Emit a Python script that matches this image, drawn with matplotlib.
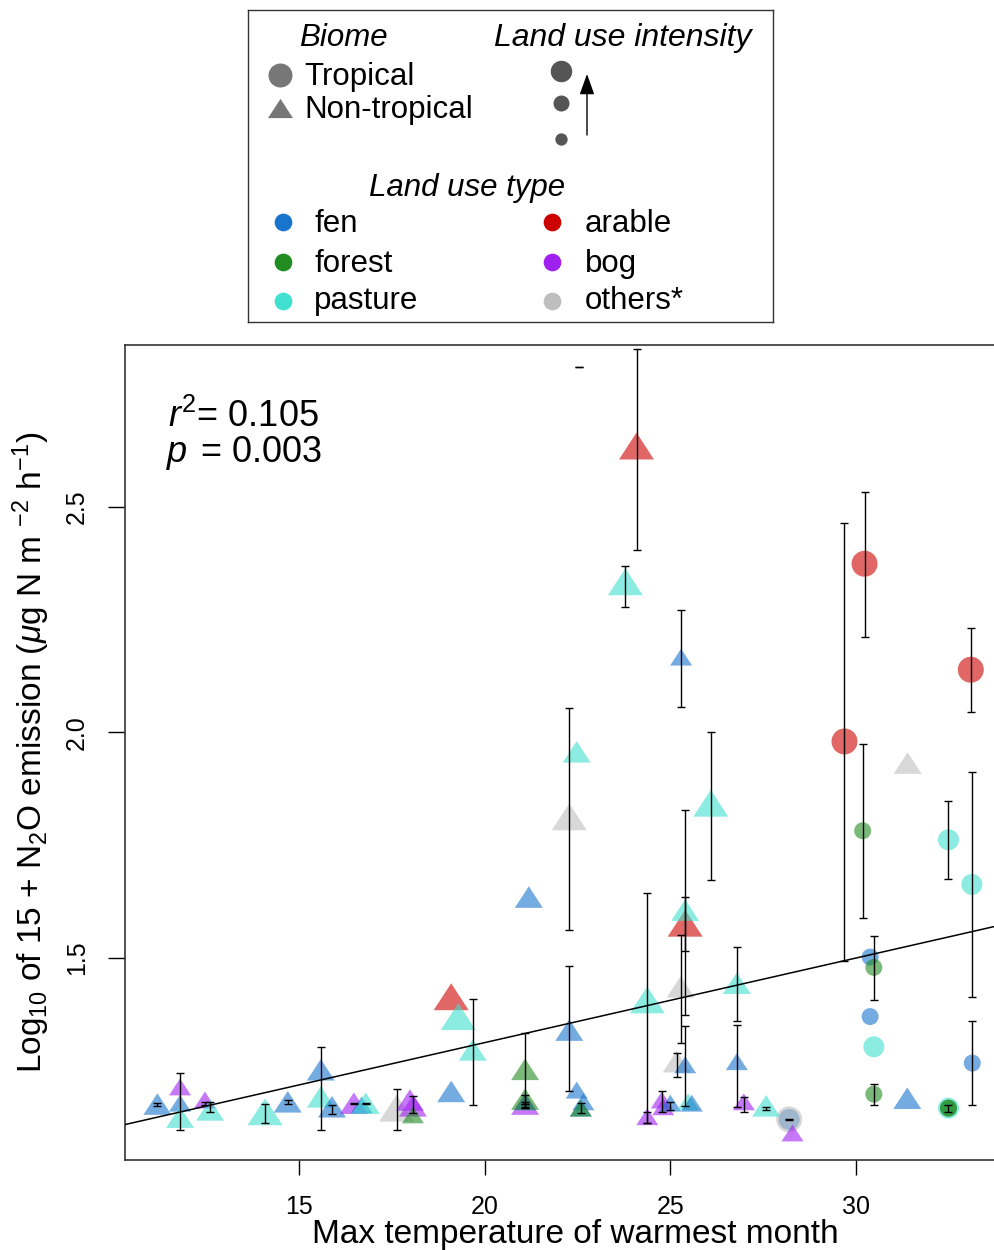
import numpy as np
import matplotlib
matplotlib.use('Agg')
import matplotlib.pyplot as plt
from matplotlib.path import Path

plt.rcParams['font.family'] = ['Liberation Sans', 'DejaVu Sans']
plt.rcParams['mathtext.fontset'] = 'custom'
plt.rcParams['mathtext.rm'] = 'Liberation Sans'
plt.rcParams['mathtext.it'] = 'Liberation Sans:italic'

nan = np.nan

# land use types (legend order: left column then right column)
types = ['fen', 'forest', 'pasture', 'arable', 'bog', 'others']
type_labels = ['fen', 'forest', 'pasture', 'arable', 'bog', 'others*']
type_colors = ['#1874CD', '#228B22', '#40E0D0', '#CD0000', '#A020F0', '#BEBEBE']
intensity_levels = [1, 2, 3]

# non-tropical sites (triangles)
nt_temp = [11.19, 11.80, 11.80, 11.80, 12.47, 12.61, 14.09, 14.70, 15.59, 15.59,
           15.89, 16.48, 16.69, 16.80, 17.63, 17.99, 18.07, 18.07, 19.10, 19.10,
           19.29, 19.68, 21.09, 21.09, 21.09, 21.09, 21.19, 22.28, 22.28, 22.48,
           22.48, 22.66, 22.59, 22.59, 23.79, 24.09, 24.38, 24.38, 24.77, 24.81,
           25.00, 25.17, 25.28, 25.29, 25.40, 25.40, 25.40, 25.48, 25.58, 26.09,
           26.79, 26.79, 26.98, 27.58, 28.29, 31.38, 31.39]
nt_emis = [1.176, 1.214, 1.178, 1.147, 1.185, 1.163, 1.159, 1.181, 1.252, 1.192,
           1.170, 1.178, 1.174, 1.178, 1.167, 1.185, 1.172, 1.152, 1.204, 1.414,
           1.370, 1.296, 1.253, 1.176, 1.181, 1.187, 1.635, 1.340, 1.813, 1.957,
           1.207, 1.181, 1.167, 1.167, 2.334, 2.635, 1.407, 1.148, 1.185, 1.170,
           1.178, 1.270, 1.436, 2.167, 1.263, 1.577, 1.606, 1.181, 1.178, 1.843,
           1.444, 1.270, 1.181, 1.172, 1.112, 1.189, 1.932]
nt_type = ['fen', 'bog', 'fen', 'pasture', 'bog', 'pasture', 'pasture', 'fen', 'fen', 'pasture',
           'fen', 'bog', 'fen', 'pasture', 'others', 'bog', 'bog', 'forest', 'fen', 'arable',
           'pasture', 'pasture', 'forest', 'bog', 'fen', 'forest', 'fen', 'fen', 'others', 'pasture',
           'fen', 'fen', 'fen', 'forest', 'pasture', 'arable', 'pasture', 'bog', 'bog', 'bog',
           'fen', 'others', 'others', 'fen', 'fen', 'arable', 'pasture', 'pasture', 'fen', 'pasture',
           'pasture', 'fen', 'bog', 'pasture', 'bog', 'fen', 'others']
nt_int = [2, 1, 1, 2, 1, 2, 3, 2, 2, 2,
          2, 2, 1, 2, 3, 2, 2, 1, 2, 3,
          3, 2, 2, 2, 1, 2, 2, 2, 3, 2,
          1, 1, 1, 1, 3, 3, 3, 1, 1, 1,
          1, 2, 2, 1, 1, 3, 2, 1, 1, 3,
          2, 1, 1, 2, 1, 2, 2]
nt_lo = [1.172, nan, nan, 1.119, 1.174, 1.159, 1.134, 1.176, 1.119, nan,
         1.154, 1.177, nan, 1.177, 1.119, nan, 1.156, nan, nan, nan,
         nan, 1.174, 1.167, 1.167, 1.170, 1.176, nan, 1.206, 1.561, nan,
         nan, nan, nan, 1.156, 2.279, 2.405, 1.133, 1.133, 1.159, nan,
         1.163, 1.237, 1.312, 2.057, 1.172, 1.516, 1.374, nan, nan, 1.673,
         1.360, 1.170, 1.159, 1.163, nan, nan, nan]
nt_hi = [1.178, nan, nan, 1.245, 1.181, 1.181, 1.176, 1.185, 1.303, nan,
         1.174, 1.179, nan, 1.179, 1.210, nan, 1.194, nan, nan, nan,
         nan, 1.409, 1.334, 1.176, 1.181, 1.196, nan, 1.482, 2.054, nan,
         nan, nan, nan, 1.178, 2.369, 2.850, 1.643, 1.159, 1.205, nan,
         1.180, 1.290, 1.551, 2.272, 1.348, 1.636, 1.828, nan, nan, 2.000,
         1.524, 1.351, 1.192, 1.170, nan, nan, nan]

# tropical sites (circles)
tr_temp = [28.20, 28.20, 29.69, 30.18, 30.23, 30.38, 30.48, 30.38, 30.48, 30.48,
           32.49, 32.49, 32.49, 32.49, 33.09, 33.12, 33.13]
tr_emis = [1.142, 1.142, 1.980, 1.782, 2.374, 1.502, 1.479, 1.370, 1.303, 1.198,
           1.762, 1.167, 1.167, 1.167, 2.139, 1.663, 1.267]
tr_type = ['fen', 'others', 'arable', 'forest', 'arable', 'fen', 'forest', 'fen', 'pasture', 'forest',
           'pasture', 'pasture', 'forest', 'forest', 'arable', 'pasture', 'fen']
tr_int = [2, 3, 3, 1, 3, 1, 1, 1, 2, 1,
          2, 2, 1, 1, 3, 2, 1]
tr_lo = [nan, 1.141, 1.494, 1.589, 2.212, nan, 1.407, nan, nan, 1.174,
         1.675, nan, 1.159, nan, 2.046, 1.414, 1.174]
tr_hi = [nan, 1.143, 2.465, 1.974, 2.534, nan, 1.549, nan, nan, 1.221,
         1.847, nan, 1.174, nan, 2.232, 1.913, 1.360]

# error bar with no point shown
lone_temp = [22.53]
lone_emis = [2.811]

# regression fit
fit_a = 0.937
fit_b = 0.01876
r2_text = '0.105'
p_text = '0.003'

W, H = 995, 1250
fig = plt.figure(figsize=(W / 100, H / 100), dpi=100)


def fxy(x, y):
    return x / W, 1 - y / H


color_of = dict(zip(types, type_colors))
tri_w = {1: 22, 2: 28, 3: 35}     # triangle width in px
circ_d = {1: 17, 2: 21, 3: 26}    # circle diameter in px
PT = 72 / 100
tri = Path([(-0.65, -0.5), (0.65, -0.5), (0, 0.5), (-0.65, -0.5)],
           [Path.MOVETO, Path.LINETO, Path.LINETO, Path.CLOSEPOLY])

ax = fig.add_axes([125 / W, 1 - 1160 / H, 872 / W, 815 / H])
ax.set_xlim(10.318, 33.796)
ax.set_ylim(1.052, 2.859)

ax.scatter(tr_temp, tr_emis, marker='o', c=[color_of[t] for t in tr_type],
           s=[(circ_d[i] * PT) ** 2 for i in tr_int], alpha=0.6, linewidths=0, zorder=2)
ax.scatter(nt_temp, nt_emis, marker=tri, c=[color_of[t] for t in nt_type],
           s=[(tri_w[i] * PT) ** 2 for i in nt_int], alpha=0.6, linewidths=0, zorder=2)

bx = np.array(nt_temp + tr_temp + lone_temp)
lo = np.array(nt_lo + tr_lo + lone_emis)
hi = np.array(nt_hi + tr_hi + lone_emis)
ok = np.isfinite(lo)
ax.errorbar(bx[ok], (lo[ok] + hi[ok]) / 2, yerr=(hi[ok] - lo[ok]) / 2, fmt='none',
            ecolor='black', elinewidth=1.0, capsize=2.8, capthick=1.0, zorder=3)

ax.axline((0, fit_a), slope=fit_b, color='black', lw=1.1, zorder=4)

ax.set_xticks([15, 20, 25, 30])
ax.set_yticks([1.5, 2.0, 2.5])
ax.tick_params(axis='x', direction='out', length=10.5, width=1, labelsize=18, pad=15)
ax.tick_params(axis='y', direction='out', length=12, width=1, labelsize=18, pad=14,
               labelrotation=90)
for lab in ax.get_yticklabels():
    lab.set_va('center')
for s in ax.spines.values():
    s.set_color('#333333')
    s.set_linewidth(1.2)

ax.set_xlabel('Max temperature of warmest month', fontsize=24)
ax.xaxis.label.set_va('baseline')
ax.xaxis.set_label_coords(0.516, (1160 - 1243) / 815)
ax.set_ylabel(r'Log$_{10}$ of 15 + N$_2$O emission ($\mu$g N m $^{-2}$ h$^{-1}$)', fontsize=24)
ax.yaxis.set_label_coords((52 - 125) / 872, 0.5)

# r^2 and p
fig.text(*fxy(168, 427), r'$r^{2}$= ' + r2_text, fontsize=26, va='baseline')
fig.text(*fxy(167, 462), 'p', style='italic', fontsize=26, va='baseline')
fig.text(*fxy(201, 462), '= ' + p_text, fontsize=26, va='baseline')

# legend box
lg = fig.add_axes([248 / W, 1 - 322 / H, 525 / W, 312 / H])
lg.set_xlim(248, 773)
lg.set_ylim(322, 10)
lg.set_xticks([])
lg.set_yticks([])
for s in lg.spines.values():
    s.set_color('#333333')
    s.set_linewidth(1.0)

lg.text(343.6, 46, 'Biome', style='italic', fontsize=22.5, ha='center', va='baseline')
lg.scatter([280.4], [75.2], marker='o', s=(24 * PT) ** 2, color='#777777', linewidths=0)
lg.scatter([280.4], [107.5], marker=tri, s=(25 * PT) ** 2, color='#777777', linewidths=0)
lg.text(304, 85.3, 'Tropical', fontsize=22.5, va='baseline')
lg.text(304, 117.7, 'Non-tropical', fontsize=22.5, va='baseline')

lg.text(623, 46, 'Land use intensity', style='italic', fontsize=23, ha='center', va='baseline')
leg_d = {1: 12.3, 2: 16, 3: 21.5}
leg_y = {1: 138.8, 2: 103, 3: 71.2}
for lev in intensity_levels:
    lg.scatter([561], [leg_y[lev]], marker='o', s=(leg_d[lev] * PT) ** 2,
               color='#555555', linewidths=0)
lg.annotate('', xy=(587, 74), xytext=(587, 135),
            arrowprops=dict(arrowstyle='-|>,head_length=0.7,head_width=0.25',
                            color='black', lw=1.0, mutation_scale=18,
                            shrinkA=0, shrinkB=0))

lg.text(467, 195.6, 'Land use type', style='italic', fontsize=22.5, ha='center', va='baseline')
col_x = [283.4, 552.5]
txt_x = [314.4, 584.5]
row_y = [222.4, 262.0, 301.0]
row_base = [232.4, 271.9, 309.3]
for k, (lab, col) in enumerate(zip(type_labels, type_colors)):
    c, r = divmod(k, 3)
    lg.scatter([col_x[c]], [row_y[r]], marker='o', s=(17.7 * PT) ** 2, color=col, linewidths=0)
    lg.text(txt_x[c], row_base[r], lab, fontsize=22.5, va='baseline')

fig.savefig('out.png', dpi=100)
